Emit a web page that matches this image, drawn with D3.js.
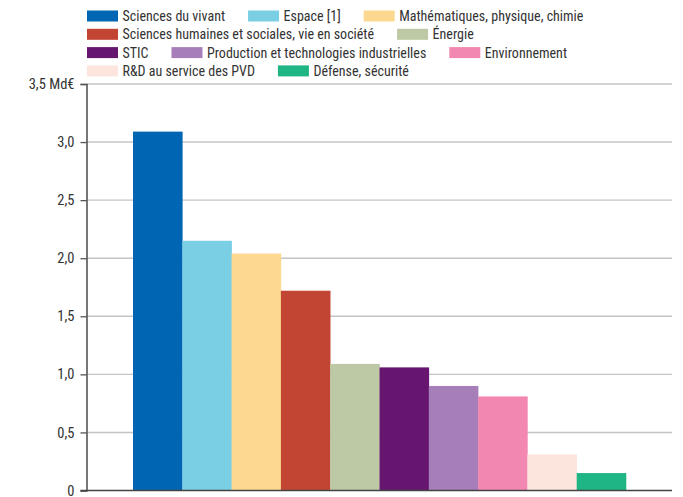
<!DOCTYPE html>
<html><head><meta charset="utf-8">
<script src="https://cdn.jsdelivr.net/npm/d3@7"></script>
<style>
body{margin:0;background:#fff}
svg text{font-family:"Liberation Sans Narrow","Roboto Condensed","Arial Narrow","Liberation Sans",sans-serif;}
</style></head><body>
<svg id="c" width="683" height="497"></svg>
<script>
const categories = ["Sciences du vivant","Espace [1]","Mathématiques, physique, chimie","Sciences humaines et sociales, vie en société","Énergie","STIC","Production et technologies industrielles","Environnement","R&D au service des PVD","Défense, sécurité"];
const values = [3.09,2.15,2.04,1.72,1.09,1.06,0.90,0.81,0.31,0.15];
const colors = ["#0066b3","#7acfe5","#fdd891","#c24432","#bdc9a5","#66166f","#a67fba","#f287b1","#fce5dc","#1fb585"];
const tickValues = [0,0.5,1,1.5,2,2.5,3,3.5];
const tickLabels = ["0","0,5","1,0","1,5","2,0","2,5","3,0","3,5 Md€"];
const legendRows = [[0,1,2],[3,4],[5,6,7],[8,9]];

const svg = d3.select("#c");
const y = d3.scaleLinear().domain([0,3.5]).range([490.5,84]);
const x = d3.scaleBand().domain(categories).range([133,626]).padding(0);
const axisX = 86.5, rightX = 672;

// gridlines
svg.append("g").selectAll("line").data(tickValues.filter(d=>d>0)).join("line")
  .attr("x1",axisX).attr("x2",rightX).attr("y1",d=>y(d)).attr("y2",d=>y(d))
  .attr("stroke","#c4c4c4").attr("stroke-width",1.4);

// bars
svg.append("g").selectAll("rect").data(values).join("rect")
  .attr("x",(d,i)=>x(categories[i])).attr("width",x.bandwidth()+0.3)
  .attr("y",d=>y(d)).attr("height",d=>y(0)-y(d))
  .attr("fill",(d,i)=>colors[i]);

// y axis
const yAxis = d3.axisLeft(y).tickValues(tickValues).tickSize(6).tickPadding(6)
  .tickFormat((d,i)=>tickLabels[i]);
const ga = svg.append("g").attr("transform",`translate(${axisX},0)`).call(yAxis);
ga.select(".domain").attr("stroke","#555").attr("stroke-width",1.6);
ga.selectAll(".tick line").attr("stroke","#555").attr("stroke-width",1.3);
ga.selectAll(".tick text").attr("font-size",14.5).attr("fill","#333")
  .attr("font-family",null);

// bottom baseline
svg.append("line").attr("x1",axisX-6).attr("x2",rightX).attr("y1",y(0)).attr("y2",y(0))
  .attr("stroke","#444").attr("stroke-width",1.6);

// legend
const lg = svg.append("g");
legendRows.forEach((row,r)=>{
  let cx = 87;
  const cy = 16 + r*18.3;
  row.forEach(i=>{
    lg.append("rect").attr("x",cx).attr("y",cy-5.5).attr("width",31).attr("height",11).attr("fill",colors[i]);
    const t = lg.append("text").attr("x",cx+35.5).attr("y",cy+5).attr("font-size",14).attr("fill","#333").text(categories[i]);
    cx += 35.5 + t.node().getComputedTextLength() + 23;
  });
});
</script></body></html>
